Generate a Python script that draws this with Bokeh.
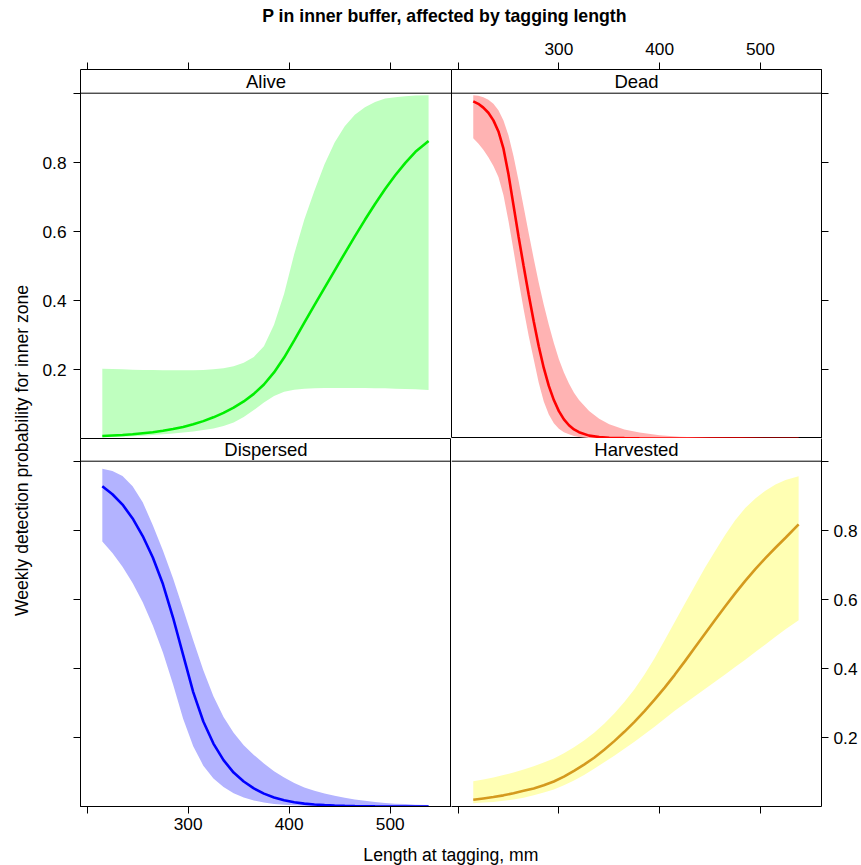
from bokeh.plotting import figure
from bokeh.models import Range1d, Span, Label, LinearAxis, FixedTicker
from bokeh.layouts import column, row
from bokeh.embed import file_html
from bokeh.resources import INLINE
import math

# ---------------- data ----------------
title_text = "P in inner buffer, affected by tagging length"
xlab_text = "Length at tagging, mm"
ylab_text = "Weekly detection probability for inner zone"

panel_names = ["Alive", "Dead", "Dispersed", "Harvested"]

alive_x = [215, 225, 235, 245, 255, 265, 275, 285, 295, 305, 315, 325, 335, 345, 355, 365, 375,
           385, 395, 405, 415, 425, 435, 445, 455, 465, 475, 485, 495, 505, 515, 525, 538]
alive_fit = [0.008, 0.0095, 0.011, 0.013, 0.016, 0.019, 0.023, 0.028, 0.034, 0.042, 0.051, 0.062,
             0.075, 0.090, 0.108, 0.130, 0.157, 0.192, 0.235, 0.285, 0.336, 0.387, 0.437, 0.487,
             0.537, 0.586, 0.634, 0.680, 0.723, 0.763, 0.799, 0.831, 0.862]
alive_hi = [0.203, 0.202, 0.201, 0.200, 0.199, 0.199, 0.198, 0.198, 0.198, 0.198, 0.199, 0.201,
            0.204, 0.210, 0.220, 0.237, 0.268, 0.330, 0.420, 0.535, 0.635, 0.718, 0.795, 0.858,
            0.905, 0.938, 0.960, 0.975, 0.985, 0.989, 0.992, 0.994, 0.995]
alive_lo = [0.004, 0.005, 0.006, 0.0075, 0.009, 0.011, 0.013, 0.015, 0.018, 0.021, 0.025, 0.030,
            0.037, 0.047, 0.063, 0.083, 0.105, 0.124, 0.136, 0.142, 0.145, 0.146, 0.147, 0.147,
            0.147, 0.147, 0.147, 0.146, 0.146, 0.145, 0.144, 0.143, 0.141]

dead_x = [215, 220, 225, 230, 235, 240, 245, 250, 255, 260, 265, 270, 275, 280, 285, 290, 295,
          300, 305, 310, 315, 320, 330, 340, 350, 365, 380, 400, 420, 450, 480, 510, 538]
dead_fit = [0.977, 0.970, 0.959, 0.944, 0.922, 0.890, 0.840, 0.765, 0.675, 0.585, 0.500, 0.418,
            0.340, 0.268, 0.205, 0.153, 0.112, 0.080, 0.056, 0.039, 0.027, 0.019, 0.009, 0.005,
            0.003, 0.0017, 0.001, 0.0006, 0.0004, 0.0003, 0.0002, 0.0001, 0.0001]
dead_hi = [0.995, 0.993, 0.989, 0.982, 0.970, 0.951, 0.922, 0.878, 0.818, 0.747, 0.672, 0.596,
           0.522, 0.452, 0.388, 0.330, 0.277, 0.230, 0.192, 0.160, 0.133, 0.112, 0.080, 0.058,
           0.042, 0.027, 0.018, 0.010, 0.006, 0.003, 0.0017, 0.001, 0.0005]
dead_lo = [0.870, 0.855, 0.837, 0.815, 0.790, 0.758, 0.705, 0.630, 0.545, 0.458, 0.375, 0.298,
           0.230, 0.162, 0.108, 0.070, 0.045, 0.029, 0.019, 0.013, 0.008, 0.005, 0.002, 0.001,
           0.0006, 0.0003, 0.0002, 0.0001, 0.0001, 0.0, 0.0, 0.0, 0.0]

disp_x = [215, 225, 235, 245, 255, 265, 275, 285, 295, 305, 315, 325, 335, 345, 355, 365, 375,
          385, 395, 405, 415, 425, 435, 445, 455, 465, 475, 485, 495, 505, 515, 525, 538]
disp_fit = [0.928, 0.905, 0.875, 0.835, 0.784, 0.722, 0.645, 0.548, 0.440, 0.332, 0.247, 0.183,
            0.135, 0.099, 0.073, 0.053, 0.038, 0.027, 0.019, 0.013, 0.009, 0.0065, 0.0047,
            0.0034, 0.0025, 0.0018, 0.0013, 0.001, 0.0008, 0.0006, 0.0005, 0.0004, 0.0003]
disp_hi = [0.979, 0.972, 0.958, 0.928, 0.882, 0.815, 0.742, 0.662, 0.573, 0.482, 0.395, 0.320,
           0.260, 0.214, 0.178, 0.150, 0.125, 0.103, 0.085, 0.069, 0.056, 0.046, 0.038, 0.032,
           0.026, 0.021, 0.017, 0.014, 0.011, 0.009, 0.008, 0.006, 0.005]
disp_lo = [0.768, 0.735, 0.695, 0.648, 0.592, 0.525, 0.447, 0.355, 0.255, 0.175, 0.119, 0.082,
           0.057, 0.039, 0.027, 0.018, 0.012, 0.008, 0.0055, 0.004, 0.003, 0.002, 0.0015, 0.001,
           0.0007, 0.0005, 0.0004, 0.0003, 0.0002, 0.0002, 0.0001, 0.0001, 0.0001]

harv_x = [215, 225, 235, 245, 255, 265, 275, 285, 295, 305, 315, 325, 335, 345, 355, 365, 375,
          385, 395, 405, 415, 425, 435, 445, 455, 465, 475, 485, 495, 505, 515, 525, 538]
harv_fit = [0.020, 0.024, 0.028, 0.033, 0.039, 0.046, 0.053, 0.062, 0.073, 0.087, 0.104, 0.122,
            0.142, 0.165, 0.190, 0.217, 0.246, 0.277, 0.310, 0.345, 0.382, 0.421, 0.461, 0.501,
            0.541, 0.580, 0.618, 0.654, 0.688, 0.720, 0.750, 0.779, 0.818]
harv_hi = [0.074, 0.079, 0.085, 0.092, 0.099, 0.108, 0.117, 0.128, 0.140, 0.155, 0.172, 0.192,
           0.214, 0.240, 0.270, 0.303, 0.340, 0.383, 0.430, 0.482, 0.535, 0.588, 0.640, 0.692,
           0.740, 0.787, 0.830, 0.865, 0.893, 0.915, 0.933, 0.946, 0.957]
harv_lo = [0.010, 0.012, 0.014, 0.017, 0.021, 0.026, 0.033, 0.041, 0.050, 0.062, 0.076, 0.092,
           0.110, 0.129, 0.148, 0.168, 0.188, 0.210, 0.232, 0.255, 0.278, 0.299, 0.320, 0.341,
           0.362, 0.383, 0.405, 0.426, 0.448, 0.470, 0.492, 0.514, 0.540]

y_ticks_labeled = [0.2, 0.4, 0.6, 0.8]
y_ticks_edge = [0.0, 1.0]
x_ticks_labeled = [300, 400, 500]
x_ticks_edge = [200]

# ---------------- styling / layout ----------------
FONT = "Liberation Sans"
TICK_FS = "17.3px"
STRIP_FS = "18.5px"
LAB_FS = "17.6px"

X0, X1 = 193.4, 560.7
PX_PER_UNIT = 345.3
Y0 = 0.0007
PANEL_TOP = Y0 + 1.0

LW, RW = 371, 370          # frame widths of left / right column
TOP_FH, BOT_FH = 369, 368  # frame heights (strip + panel)
LEFT_B, RIGHT_B = 45, 40
TOP_B, BOTTOM_B = 39, 36
YLAB_W = 35
HEAD_H, FOOT_H = 30, 23


def style_axis(ax, standoff):
    ax.axis_line_color = "black"
    ax.axis_line_width = 1
    ax.major_tick_line_color = "black"
    ax.minor_tick_line_color = "black"
    ax.major_tick_in = 0
    ax.major_tick_out = 7
    ax.minor_tick_in = 0
    ax.minor_tick_out = 7
    ax.major_label_text_font = FONT
    ax.major_label_text_font_size = TICK_FS
    ax.major_label_text_color = "black"
    ax.major_label_standoff = standoff


def add_y_axis(p, side, labeled):
    if labeled:
        t = FixedTicker(ticks=y_ticks_labeled, minor_ticks=y_ticks_edge)
    else:
        t = FixedTicker(ticks=[], minor_ticks=y_ticks_edge + y_ticks_labeled)
    ax = LinearAxis(ticker=t)
    style_axis(ax, 7 if side == "left" else 5)
    p.add_layout(ax, side)


def add_x_axis(p, side, labeled):
    if labeled:
        t = FixedTicker(ticks=x_ticks_labeled, minor_ticks=x_ticks_edge)
    else:
        t = FixedTicker(ticks=[], minor_ticks=x_ticks_edge + x_ticks_labeled)
    ax = LinearAxis(ticker=t)
    style_axis(ax, 8 if side == "above" else 4)
    p.add_layout(ax, side)


def make_panel(name, xs, lo, fit, hi, fill, line, fw, fh, mb, outline):
    p = figure(frame_width=fw, frame_height=fh,
               x_range=Range1d(X0, X1),
               y_range=Range1d(Y0, Y0 + fh / PX_PER_UNIT),
               toolbar_location=None, output_backend="svg",
               x_axis_location=None, y_axis_location=None,
               min_border_left=mb[0], min_border_right=mb[1],
               min_border_top=mb[2], min_border_bottom=mb[3])
    p.grid.visible = False
    p.outline_line_color = "black" if outline else None
    p.outline_line_width = 1
    p.background_fill_color = "white"
    p.border_fill_color = "white"
    p.varea(x=xs, y1=lo, y2=hi, fill_color=fill, fill_alpha=1.0)
    p.line(x=xs, y=fit, line_color=line, line_width=2.6)
    p.add_layout(Span(location=PANEL_TOP, dimension="width",
                      line_color="black", line_width=1))
    strip_mid = PANEL_TOP + (fh / PX_PER_UNIT - 1.0) / 2.0
    p.add_layout(Label(x=(X0 + X1) / 2.0, y=strip_mid, text=name,
                       text_align="center", text_baseline="middle",
                       text_font=FONT, text_font_size=STRIP_FS,
                       text_color="black"))
    return p


# borders between neighbouring panels are drawn by one panel only
tl = make_panel(panel_names[0], alive_x, alive_lo, alive_fit, alive_hi,
                "#BFFFBF", "#00EE00", LW, TOP_FH, (LEFT_B, 0, TOP_B, 0), False)
add_y_axis(tl, "left", True)
add_x_axis(tl, "above", False)

tr = make_panel(panel_names[1], dead_x, dead_lo, dead_fit, dead_hi,
                "#FFB3B3", "#FF0000", RW, TOP_FH, (0, RIGHT_B, TOP_B, 0), True)
add_y_axis(tr, "right", False)
add_x_axis(tr, "above", True)

bl = make_panel(panel_names[2], disp_x, disp_lo, disp_fit, disp_hi,
                "#B3B3FF", "#0000FF", LW, BOT_FH, (LEFT_B, 0, 0, BOTTOM_B), True)
add_y_axis(bl, "left", False)
add_x_axis(bl, "below", True)

br = make_panel(panel_names[3], harv_x, harv_lo, harv_fit, harv_hi,
                "#FFFFB3", "#D49A1E", RW, BOT_FH, (0, RIGHT_B, 0, BOTTOM_B), False)
add_y_axis(br, "right", True)
add_x_axis(br, "below", False)


def text_fig(w, h, y_top):
    f = figure(frame_width=w, frame_height=h,
               x_range=Range1d(0, w), y_range=Range1d(y_top + h, y_top),
               toolbar_location=None, output_backend="svg",
               x_axis_location=None, y_axis_location=None,
               min_border=0)
    f.grid.visible = False
    f.outline_line_color = None
    f.background_fill_color = "white"
    f.border_fill_color = "white"
    return f


head = text_fig(861, HEAD_H, 0)
head.add_layout(Label(x=444, y=15.5, text=title_text, text_align="center",
                      text_baseline="middle", text_font=FONT,
                      text_font_size="17.7px", text_font_style="bold",
                      text_color="black"))

mid_h = TOP_B + TOP_FH + BOT_FH + BOTTOM_B
ylab = text_fig(YLAB_W, mid_h, HEAD_H)
ylab.add_layout(Label(x=21, y=450, text=ylab_text, text_align="center",
                      text_baseline="middle", text_font=FONT,
                      text_font_size=LAB_FS, angle=math.pi / 2,
                      text_color="black"))

foot_top = HEAD_H + mid_h
foot = text_fig(861, FOOT_H, foot_top)
foot.add_layout(Label(x=450.4, y=854.5, text=xlab_text, text_align="center",
                      text_baseline="middle", text_font=FONT,
                      text_font_size=LAB_FS, text_color="black"))

grid = column(row(tl, tr), row(bl, br))
layout = column(head, row(ylab, grid), foot)

open("out.html", "w").write(file_html(layout, INLINE))
